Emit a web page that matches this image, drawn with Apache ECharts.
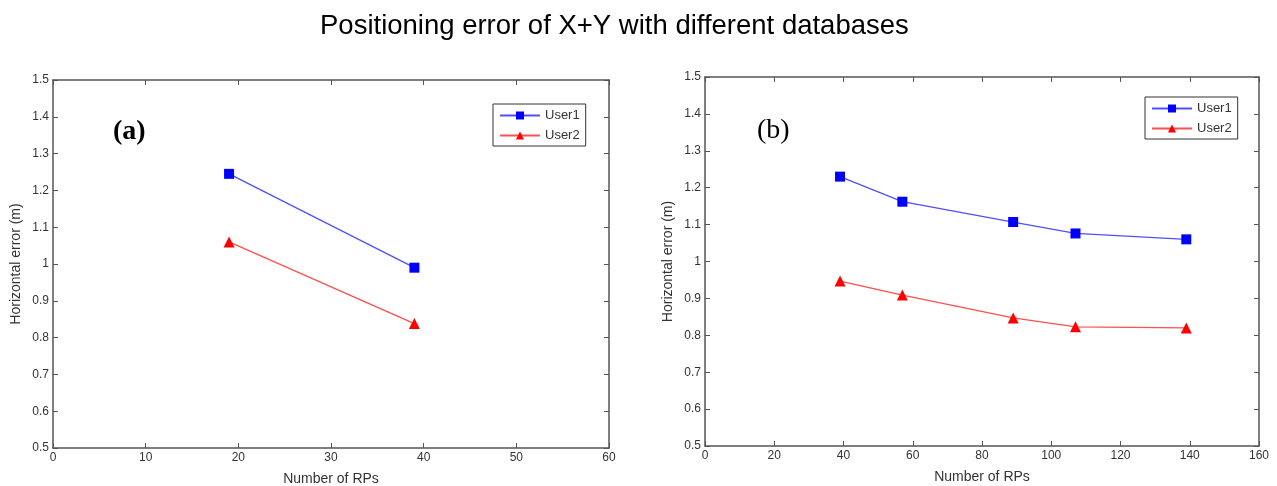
<!DOCTYPE html>
<html>
<head>
<meta charset="utf-8">
<script src="https://cdn.jsdelivr.net/npm/echarts@6/dist/echarts.min.js"></script>
<style>
  html, body { margin: 0; padding: 0; background: #fff; }
  #main { width: 1277px; height: 486px; }
</style>
</head>
<body>
<div id="main"></div>
<script>
// data
var rpsA = [19, 39];
var user1A = [1.245, 0.99];
var user2A = [1.06, 0.838];

var rpsB = [39, 57, 89, 107, 139];
var user1B = [1.23, 1.162, 1.107, 1.076, 1.06];
var user2B = [0.947, 0.909, 0.847, 0.823, 0.82];

var seriesNames = ['User1', 'User2'];
var panelLabels = ['(a)', '(b)'];

function pairs(xs, ys) {
    return xs.map(function (x, i) { return [x, ys[i]]; });
}

var chart = echarts.init(document.getElementById('main'));

var axisColor = '#555';
var labelStyle = { color: '#333', fontSize: 12, fontFamily: 'Liberation Sans, Arial' };
var nameStyle = { color: '#333', fontSize: 14, fontFamily: 'Liberation Sans, Arial' };

// one x pair (bottom + mirrored top) and one y pair (left + mirrored right) per panel
function xAxes(grid, max, interval) {
    return [{
        type: 'value', gridIndex: grid, position: 'bottom', min: 0, max: max, interval: interval,
        name: 'Number of RPs', nameLocation: 'middle', nameGap: 24, nameTextStyle: nameStyle,
        axisLine: { onZero: false, lineStyle: { color: axisColor, width: 1.5 } },
        axisTick: { inside: true, length: 5, lineStyle: { color: axisColor } },
        axisLabel: Object.assign({ margin: 4 }, labelStyle),
        splitLine: { show: false }
    }, {
        type: 'value', gridIndex: grid, position: 'top', min: 0, max: max, interval: interval,
        axisLine: { onZero: false, lineStyle: { color: axisColor, width: 1.5 } },
        axisTick: { inside: true, length: 5, lineStyle: { color: axisColor } },
        axisLabel: { show: false },
        splitLine: { show: false }
    }];
}

function yAxes(grid) {
    return [{
        type: 'value', gridIndex: grid, position: 'left', min: 0.5, max: 1.5, interval: 0.1,
        name: 'Horizontal error (m)', nameLocation: 'middle', nameGap: 30, nameTextStyle: nameStyle,
        axisLine: { show: true, onZero: false, lineStyle: { color: axisColor, width: 1.5 } },
        axisTick: { show: true, inside: true, length: 5, lineStyle: { color: axisColor } },
        axisLabel: Object.assign({ margin: 4 }, labelStyle),
        splitLine: { show: false }
    }, {
        type: 'value', gridIndex: grid, position: 'right', min: 0.5, max: 1.5, interval: 0.1,
        axisLine: { show: true, onZero: false, lineStyle: { color: axisColor, width: 1.5 } },
        axisTick: { show: true, inside: true, length: 5, lineStyle: { color: axisColor } },
        axisLabel: { show: false },
        splitLine: { show: false }
    }];
}

function lineSeries(name, data, xi, yi, lineColor, markColor, symbol) {
    return {
        name: name, type: 'line', xAxisIndex: xi, yAxisIndex: yi,
        data: data, symbol: symbol, symbolSize: symbol === 'rect' ? 10 : 11,
        showAllSymbol: true,
        lineStyle: { color: lineColor, width: 1.3 },
        itemStyle: { color: markColor },
        animation: false
    };
}

var legendBase = {
    orient: 'vertical',
    data: seriesNames,
    backgroundColor: '#fff',
    borderColor: '#333',
    borderWidth: 1,
    padding: [5, 6, 4, 6],
    itemWidth: 40,
    itemHeight: 10,
    itemGap: 7,
    textStyle: { color: '#333', fontSize: 13, fontFamily: 'Liberation Sans, Arial' }
};

var option = {
    backgroundColor: '#fff',
    title: {
        text: 'Positioning error of X+Y with different databases',
        left: 315, top: 7,
        textStyle: { color: '#000', fontSize: 27.5, fontWeight: 'normal', fontFamily: 'Liberation Sans, Arial' }
    },
    legend: [
        Object.assign({ left: 493, top: 104 }, legendBase),
        Object.assign({ left: 1145, top: 97 }, legendBase)
    ],
    grid: [
        { left: 53, right: 668, top: 80, bottom: 38, outerBoundsMode: 'none' },
        { left: 705, right: 18, top: 77, bottom: 40, outerBoundsMode: 'none' }
    ],
    xAxis: xAxes(0, 60, 10).concat(xAxes(1, 160, 20)),
    yAxis: yAxes(0).concat(yAxes(1)),
    graphic: [
        { type: 'text', left: 113, top: 118,
          style: { text: panelLabels[0], fontSize: 28, fontWeight: 'bold', fontFamily: 'Liberation Serif, Times New Roman', fill: '#000' } },
        { type: 'text', left: 757, top: 117,
          style: { text: panelLabels[1], fontSize: 28, fontFamily: 'Liberation Serif, Times New Roman', fill: '#000' } }
    ],
    series: [
        lineSeries(seriesNames[0], pairs(rpsA, user1A), 0, 0, '#4f4fff', '#0000ff', 'rect'),
        lineSeries(seriesNames[1], pairs(rpsA, user2A), 0, 0, '#ff4f4f', '#ff0000', 'triangle'),
        lineSeries(seriesNames[0], pairs(rpsB, user1B), 2, 2, '#4f4fff', '#0000ff', 'rect'),
        lineSeries(seriesNames[1], pairs(rpsB, user2B), 2, 2, '#ff4f4f', '#ff0000', 'triangle')
    ]
};

chart.setOption(option);
</script>
</body>
</html>
